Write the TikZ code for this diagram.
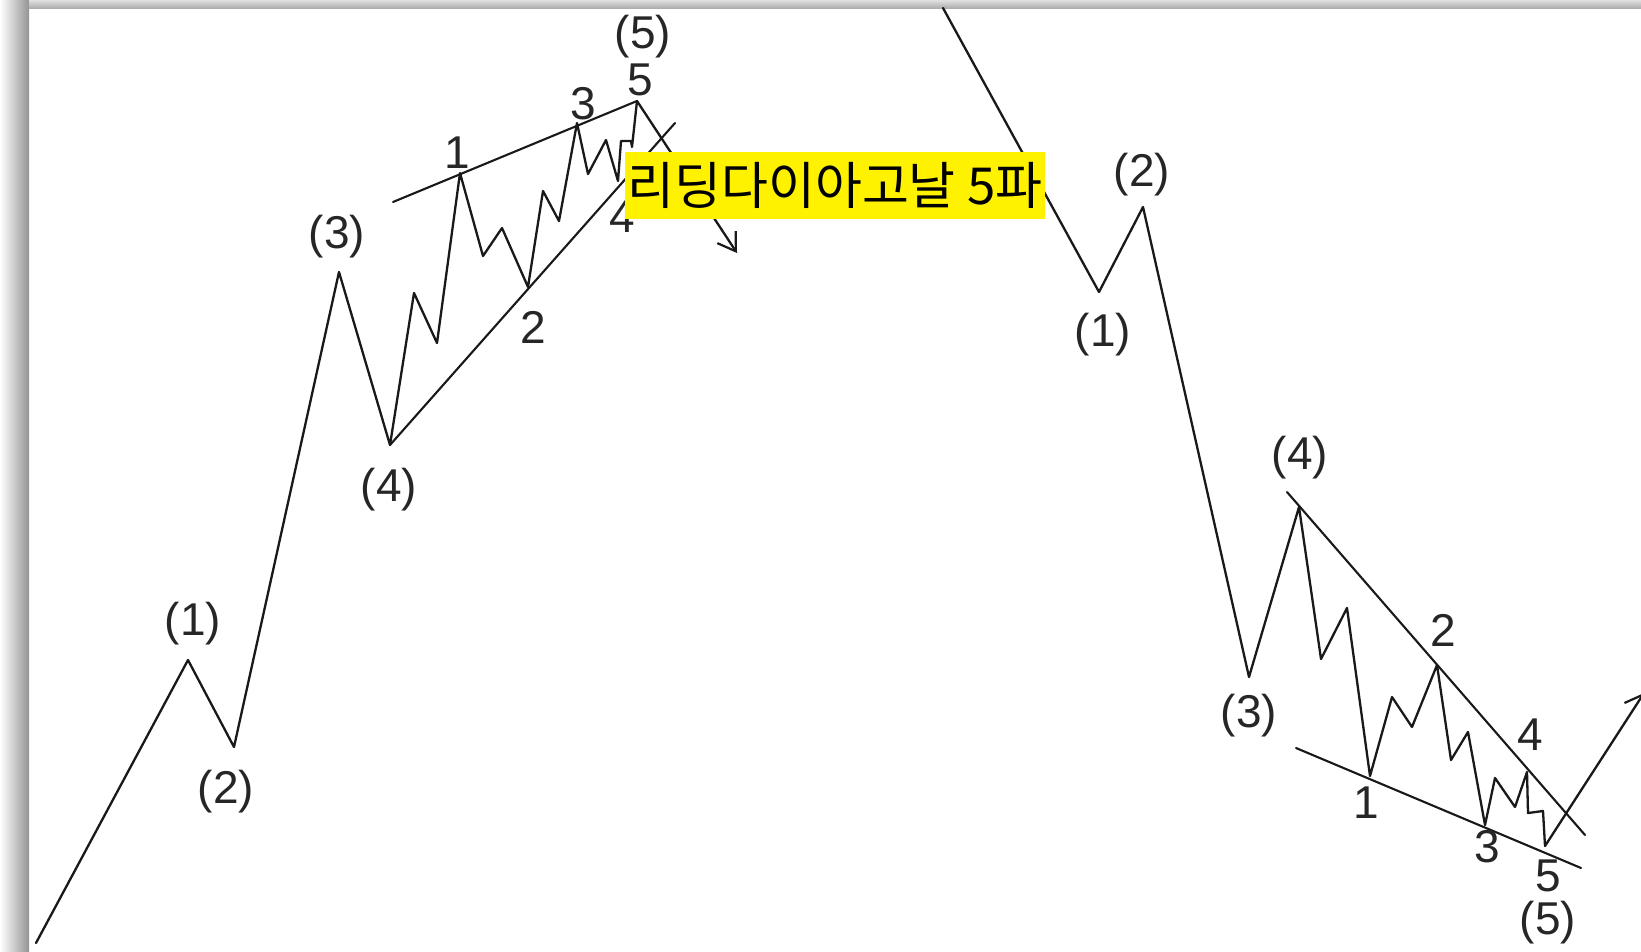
\documentclass[tikz,border=0pt]{standalone}
\usepackage{fontspec}
\setmainfont{Liberation Sans}
\newfontfamily\krfont{Noto Sans CJK KR}
\usetikzlibrary{arrows.meta}
\begin{document}
\begin{tikzpicture}[x=1pt,y=-1pt,
  wave/.style={line width=2.3pt, draw=black!90, line join=round, line cap=round},
  trend/.style={line width=2.1pt, draw=black!90, line cap=round},
  tip/.style={-{Straight Barb[length=17pt,width=22pt,line width=2.2pt]}},
  lbl/.style={font=\fontsize{46}{46}\selectfont, inner sep=0pt, text=black!85},
  banner/.style={fill=yellow, inner sep=0pt, minimum width=420pt, minimum height=67pt,
    font=\krfont\fontsize{51}{56}\selectfont, text=black}]
\useasboundingbox (0,0) rectangle (1641,951);
\fill[white] (0,0) rectangle (1641,951);
% frame shadow
\shade[left color=white, right color=black!42] (0,0) rectangle (29,951);
\shade[top color=black!12, bottom color=black!32] (29,0) rectangle (1641,8);

% ---------- left: ascending five waves ----------
\coordinate (L0) at (36,943);
\coordinate (L1) at (188,660);
\coordinate (L2) at (234,747);
\coordinate (L3) at (339,272);
\coordinate (L4) at (390,445);
\coordinate (La) at (414,293);
\coordinate (Lb) at (437,343);
\coordinate (Ls1) at (460,173);
\coordinate (Lc) at (483,256);
\coordinate (Ld) at (502,228);
\coordinate (Ls2) at (528,287);
\coordinate (Le) at (543,191);
\coordinate (Lf) at (559,221);
\coordinate (Ls3) at (577,123);
\coordinate (Lg) at (588,174);
\coordinate (Lh) at (606,140);
\coordinate (Ls4) at (618,181);
\coordinate (Li) at (621,141);
\coordinate (Lj) at (631,141);
\coordinate (Lk) at (632,147);
\coordinate (Ls5) at (637,101);
\coordinate (Lend) at (737,253);
\coordinate (LUa) at (393,202);
\coordinate (LLb) at (675,123);

\draw[trend] (LUa) -- (Ls5);
\draw[trend] (L4) -- (LLb);
\draw[wave] (L0) -- (L1) -- (L2) -- (L3) -- (L4) -- (La) -- (Lb) -- (Ls1) -- (Lc) -- (Ld)
  -- (Ls2) -- (Le) -- (Lf) -- (Ls3) -- (Lg) -- (Lh) -- (Ls4) -- (Li) -- (Lj) -- (Lk) -- (Ls5);
\draw[wave, tip] (Ls5) -- (Lend);

\node[lbl] (l1) at (193,624) {(1)};
\node[lbl] (l2) at (226,792) {(2)};
\node[lbl] (l3) at (337,237) {(3)};
\node[lbl] (l4) at (389,490) {(4)};
\node[lbl] (l5) at (643,37) {(5)};
\node[lbl] (m1) at (457,153) {1};
\node[lbl] (m2) at (533,327) {2};
\node[lbl] (m3) at (583,104) {3};
\node[lbl] (m4) at (622,217) {4};
\node[lbl] (m5) at (640,80) {5};

% ---------- right: descending five waves ----------
\coordinate (R0) at (943,8);
\coordinate (R1) at (1099,292);
\coordinate (R2) at (1143,207);
\coordinate (R3) at (1249,677);
\coordinate (R4) at (1299,507);
\coordinate (Ra) at (1321,659);
\coordinate (Rb) at (1347,608);
\coordinate (Rs1) at (1370,776);
\coordinate (Rc) at (1392,697);
\coordinate (Rd) at (1412,727);
\coordinate (Rs2) at (1437,665);
\coordinate (Re) at (1451,760);
\coordinate (Rf) at (1468,732);
\coordinate (Rs3) at (1485,825);
\coordinate (Rg) at (1495,778);
\coordinate (Rh) at (1515,807);
\coordinate (Rs4) at (1527,772);
\coordinate (Ri) at (1528,813);
\coordinate (Rj) at (1543,811);
\coordinate (Rs5) at (1545,846);
\coordinate (Rend) at (1644,693);
\coordinate (RUa) at (1287,492);
\coordinate (RUb) at (1585,835);
\coordinate (RLa) at (1296,748);
\coordinate (RLb) at (1581,868);

\draw[trend] (RUa) -- (RUb);
\draw[trend] (RLa) -- (RLb);
\draw[wave] (R0) -- (R1) -- (R2) -- (R3) -- (R4) -- (Ra) -- (Rb) -- (Rs1) -- (Rc) -- (Rd)
  -- (Rs2) -- (Re) -- (Rf) -- (Rs3) -- (Rg) -- (Rh) -- (Rs4) -- (Ri) -- (Rj) -- (Rs5);
\draw[wave, tip] (Rs5) -- (Rend);

\node[lbl] (r1) at (1103,335) {(1)};
\node[lbl] (r2) at (1142,175) {(2)};
\node[lbl] (r3) at (1249,716) {(3)};
\node[lbl] (r4) at (1300,458) {(4)};
\node[lbl] (r5) at (1548,923) {(5)};
\node[lbl] (n1) at (1366,803) {1};
\node[lbl] (n2) at (1443,630) {2};
\node[lbl] (n3) at (1487,847) {3};
\node[lbl] (n4) at (1530,735) {4};
\node[lbl] (n5) at (1548,876) {5};

% ---------- banner ----------
\node[banner] (title) at (835,185.5) {리딩다이아고날 5파};
\end{tikzpicture}
\end{document}
